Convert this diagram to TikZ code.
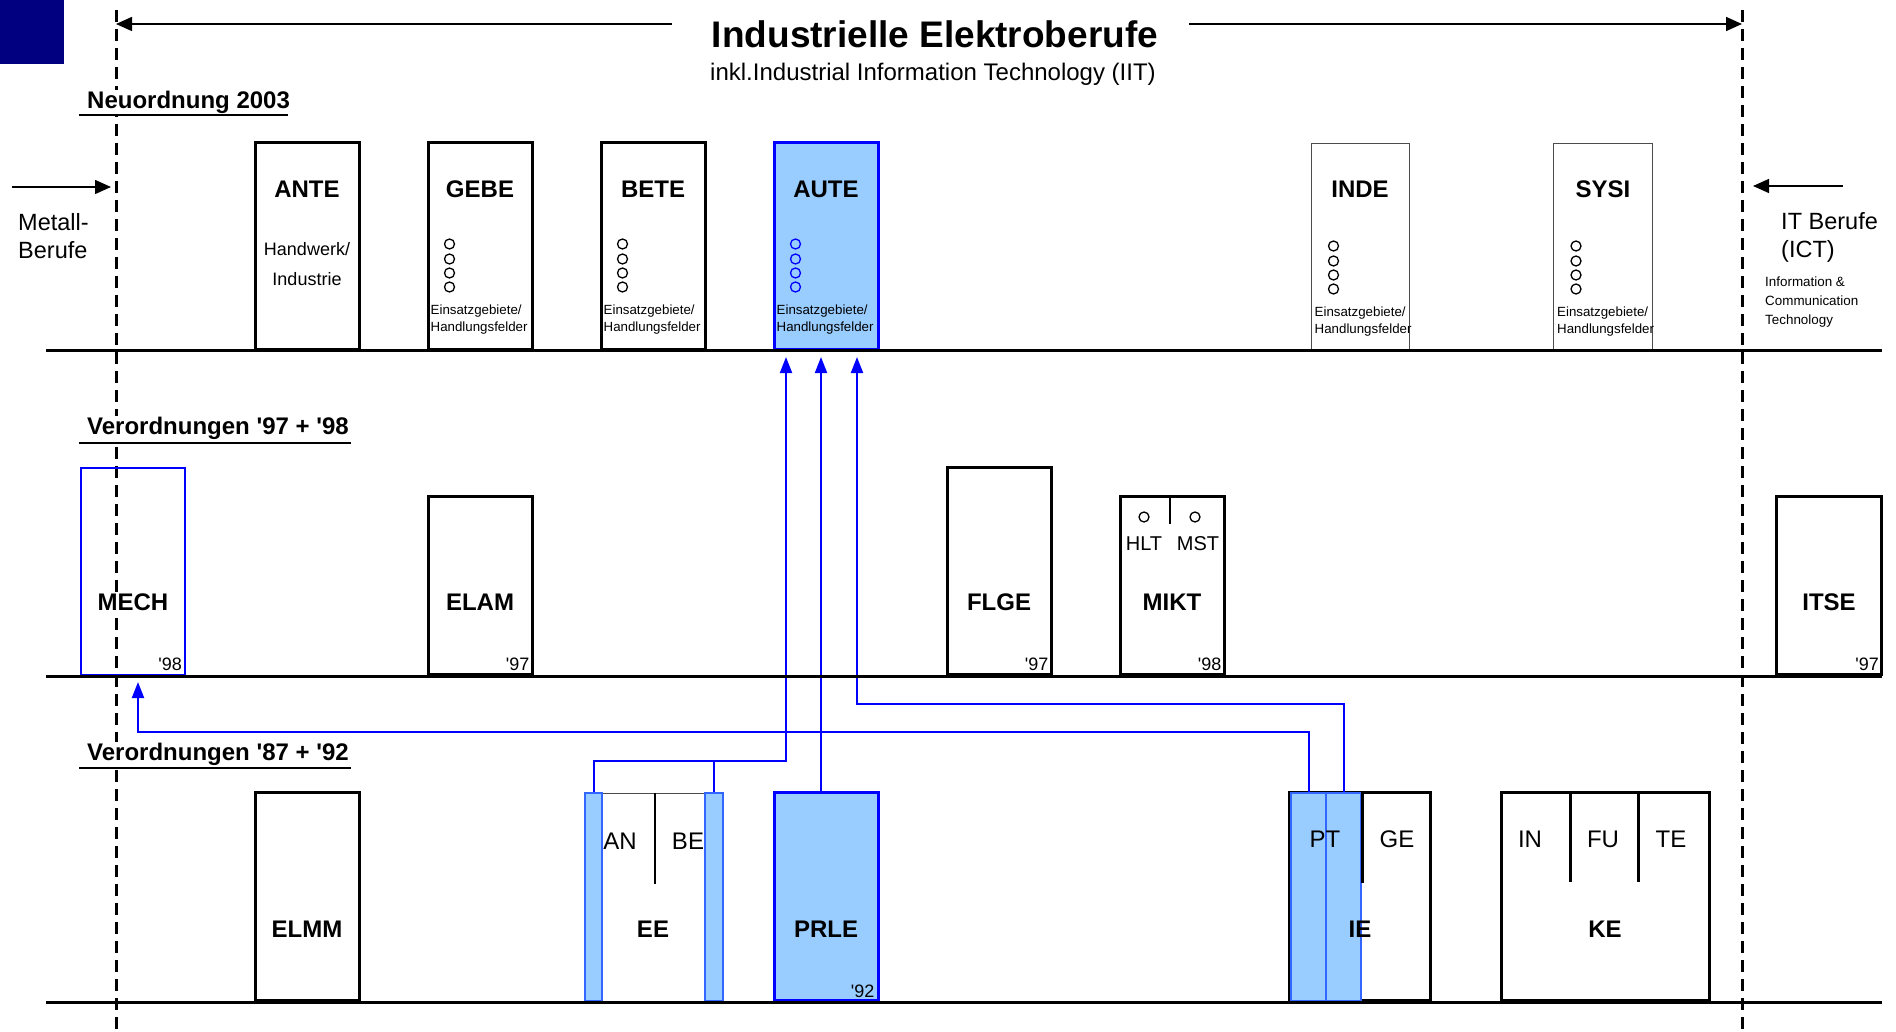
\documentclass[tikz,border=0pt]{standalone}
\usepackage{fontspec}
\setmainfont{Liberation Sans}
\usetikzlibrary{arrows.meta,positioning,calc}
\definecolor{hellblau}{HTML}{99CCFF}
\definecolor{reinblau}{HTML}{0000FF}
\definecolor{randblau}{HTML}{3366FF}
\definecolor{marine}{HTML}{000080}
\tikzset{
  beruf/.style={rectangle, draw=black, line width=3pt, anchor=south,
                minimum width=104pt, minimum height=207pt, inner sep=0pt},
  neuberuf/.style={beruf, draw=black!70, line width=1pt, minimum width=98pt},
  hervor/.style={beruf, draw=reinblau, fill=hellblau},
  balken/.style={rectangle, draw=randblau, fill=hellblau, line width=2pt,
                 anchor=south west, minimum height=208pt, inner sep=0pt},
  kuerzel/.style={font=\fontsize{24}{28}\selectfont\bfseries, inner sep=0pt},
  teil/.style={font=\fontsize{24}{28}\selectfont, inner sep=0pt},
  jahr/.style={font=\fontsize{18}{20}\selectfont, inner sep=0pt, anchor=east},
  feld/.style={font=\fontsize{13.3}{17}\selectfont, inner sep=0pt,
               align=left, anchor=west},
  sektion/.style={font=\fontsize{24}{28}\selectfont\bfseries, inner sep=1pt,
                  anchor=west, fill=white},
  seite/.style={font=\fontsize{23.5}{28}\selectfont, inner sep=0pt,
                anchor=west, align=left},
  punkt/.style={draw, line width=1.3pt},
  trenner/.style={draw, line width=3pt},
  basis/.style={draw, line width=3pt},
  unterstrich/.style={draw, line width=2.5pt},
  grenze/.style={draw, line width=3pt, dash pattern=on 12pt off 7pt},
  pfeil/.style={draw, line width=1.5pt, -{Triangle[length=16pt,width=14pt]}},
  verb/.style={draw=reinblau, line width=2pt,
               -{Triangle[length=16pt,width=12pt]}, shorten >=6pt},
  verblinie/.style={draw=reinblau, line width=2pt}
}
\begin{document}
\begin{tikzpicture}[x=1pt,y=-1pt]
\useasboundingbox (0,0) rectangle (1896,1032);
\fill[marine] (0,0) rectangle (64,64);

% Grenzen
\draw[grenze] (116,10) -- (116,1032);
\draw[grenze] (1742,10) -- (1742,1032);

% Titel
\node[font=\fontsize{37}{42}\selectfont\bfseries, inner sep=0pt] (titel) at (935,34) {Industrielle Elektroberufe};
\node[font=\fontsize{24}{28}\selectfont, inner sep=0pt] (untertitel) at (933,74) {inkl.Industrial Information Technology (IIT)};
\coordinate (tl) at (672,24);
\coordinate (tr) at (1189,24);
\coordinate (gl) at (116,24);
\coordinate (gr) at (1742,24);
\draw[pfeil] (tl) -- (gl);
\draw[pfeil] (tr) -- (gr);

% Seiten
\coordinate (ml) at (12,187);
\coordinate (mr) at (111,187);
\draw[pfeil] (ml) -- (mr);
\node[seite] (metall) at (18,236) {Metall-\\Berufe};
\coordinate (il) at (1843,186);
\coordinate (ir) at (1753,186);
\draw[pfeil] (il) -- (ir);
\node[seite] (itberufe) at (1781,237) {IT Berufe\\(ICT)};
\node[font=\fontsize{13.4}{19}\selectfont, inner sep=0pt, anchor=west, align=left]
  (ict) at (1765,302) {Information \&\\Communication\\Technology};

% Sektionen
\node[sektion] (neu) at (86,102) {Neuordnung 2003};
\draw[unterstrich] (79,115) -- (288,115);
\node[sektion] (vo97) at (86,428) {Verordnungen {\textquotesingle}97 + {\textquotesingle}98};
\draw[unterstrich] (79,443) -- (351,443);
\node[sektion] (vo87) at (86,754) {Verordnungen {\textquotesingle}87 + {\textquotesingle}92};
\draw[unterstrich] (79,768) -- (351,768);

% Neuordnung 2003
\node[beruf] (ANTE) at (307,351) {};
\node[beruf] (GEBE) at (480,351) {};
\node[beruf] (BETE) at (653,351) {};
\node[hervor] (AUTE) at (826,351) {};
\node[neuberuf] (INDE) at (1360,351) {};
\node[neuberuf, minimum width=99pt] (SYSI) at (1603,351) {};
\foreach \n/\d in {ANTE/48,GEBE/48,BETE/48,AUTE/48,INDE/46,SYSI/46}
  \node[kuerzel] at ([yshift=-\d pt]\n.north) {\n};
\node[font=\fontsize{18}{30}\selectfont, inner sep=0pt, align=center]
  at ([yshift=-123pt]ANTE.north) {Handwerk/\\Industrie};
\foreach \n/\c in {GEBE/black,BETE/black,AUTE/reinblau,INDE/black,SYSI/black} {
  \foreach \y in {103,118,132,146}
    \draw[punkt, draw=\c] ([xshift=23pt,yshift=-\y pt]\n.north west) circle (5pt);
  \node[feld] at ([xshift=4pt,yshift=-179pt]\n.north west) {Einsatzgebiete/\\Handlungsfelder};
}

% Verordnungen '97 + '98
\node[beruf, draw=reinblau, line width=2pt] (MECH) at (133,676) {};
\node[beruf, minimum height=178pt] (ELAM) at (480,676) {};
\node[beruf] (FLGE) at (999,676) {};
\node[beruf, minimum height=178pt] (MIKT) at (1172,676) {};
\node[beruf, minimum height=178pt, minimum width=105pt] (ITSE) at (1829,676) {};
\foreach \n/\j in {MECH/98,ELAM/97,FLGE/97,MIKT/98,ITSE/97} {
  \node[kuerzel, fill=white, inner sep=1pt] at ([yshift=74pt]\n.south) {\n};
  \node[jahr] at ([xshift=-4pt,yshift=12pt]\n.south east) {{\textquotesingle}\j};
}
\draw[line width=1.5pt] ([xshift=-2pt]MIKT.north) -- ++(0,29);
\draw[punkt] ([xshift=-28pt,yshift=-22pt]MIKT.north) circle (5pt);
\draw[punkt] ([xshift=23pt,yshift=-22pt]MIKT.north) circle (5pt);
\node[font=\fontsize{20}{24}\selectfont, inner sep=0pt] at ([xshift=-28pt,yshift=-49pt]MIKT.north) {HLT};
\node[font=\fontsize{20}{24}\selectfont, inner sep=0pt] at ([xshift=26pt,yshift=-49pt]MIKT.north) {MST};

% Verordnungen '87 + '92
\node[beruf, minimum height=208pt] (ELMM) at (307,1002) {};
\node[beruf, minimum height=208pt, minimum width=138pt, draw=black!70, line width=1pt] (EE) at (653,1002) {};
\node[hervor, minimum height=208pt] (PRLE) at (826,1002) {};
\node[beruf, minimum height=208pt, minimum width=141pt] (IE) at (1360,1002) {};
\node[beruf, minimum height=208pt, minimum width=208pt] (KE) at (1605,1002) {};
\draw[line width=1.5pt] ([xshift=2pt]EE.north) -- ++(0,91);
\node[teil] at ([xshift=-33pt,yshift=-48pt]EE.north) {AN};
\node[teil] at ([xshift=35pt,yshift=-48pt]EE.north) {BE};
\node[balken, minimum width=17pt] (EEl) at (584,1002) {};
\node[balken, minimum width=18pt] (EEr) at (704,1002) {};
\node[balken, minimum width=35pt] (IEa) at (1290,1002) {};
\node[balken, minimum width=35pt] (IEb) at (1325,1002) {};
\draw[trenner] (IEb.north east) -- ++(0,91);
\draw[trenner] ([xshift=-35pt]KE.north) -- ++(0,91);
\draw[trenner] ([xshift=33pt]KE.north) -- ++(0,91);
\node[teil] at ([xshift=-35pt,yshift=-48pt]IE.north) {PT};
\node[teil] at ([xshift=37pt,yshift=-48pt]IE.north) {GE};
\node[teil] at ([xshift=-75pt,yshift=-48pt]KE.north) {IN};
\node[teil] at ([xshift=-2pt,yshift=-48pt]KE.north) {FU};
\node[teil] at ([xshift=66pt,yshift=-48pt]KE.north) {TE};
\foreach \n in {ELMM,EE,PRLE,IE,KE}
  \node[kuerzel] at ([yshift=73pt]\n.south) {\n};
\node[jahr] at ([xshift=-5pt,yshift=11pt]PRLE.south east) {{\textquotesingle}92};

% Verbindungen
\draw[verb] (EEl.north) -- ++(0,-31) -| ([xshift=-40pt]AUTE.south);
\draw[verblinie] (EEr.north) -- ++(0,-31);
\draw[verb] ([xshift=-5pt]PRLE.north) -- ([xshift=-5pt]AUTE.south);
\draw[verb] (IEb.north) -- ++(0,-88) -| ([xshift=31pt]AUTE.south);
\draw[verb] (IEa.north) -- ++(0,-60) -| ([xshift=5pt]MECH.south);

% Grundlinien
\draw[basis] (46,351) -- (1882,351);
\draw[basis] (46,676) -- (1882,676);
\draw[basis] (46,1002) -- (1882,1002);
\end{tikzpicture}
\end{document}
